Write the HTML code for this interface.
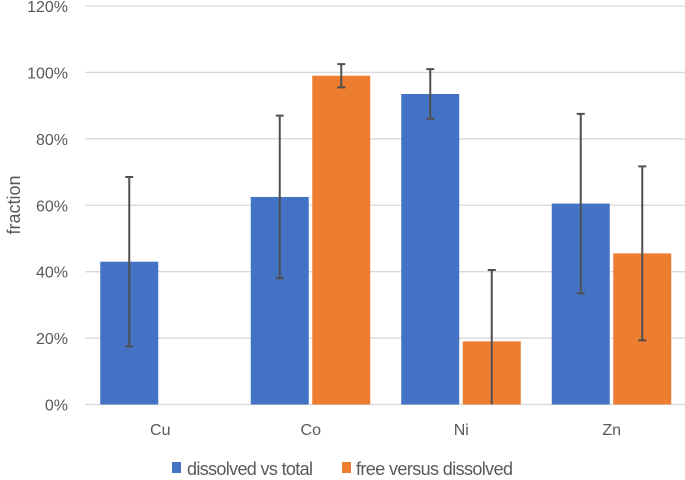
<!DOCTYPE html>
<html><head><meta charset="utf-8"><style>
body{margin:0;background:#fff;}
svg text{font-family:"Liberation Sans",sans-serif;fill:#595959;}
</style></head><body>
<svg id="chart" width="685" height="475" xmlns="http://www.w3.org/2000/svg">
<g id="grid"></g><g id="bars"></g><g id="errs"></g><g id="labels"></g>
<text transform="translate(20,205) rotate(-90)" text-anchor="middle" font-size="18">fraction</text>
<g>
<rect x="172" y="462" width="9" height="11" fill="#4472C4"/>
<text x="187" y="475" font-size="18" textLength="126">dissolved vs total</text>
<rect x="342" y="462" width="9" height="11" fill="#ED7D31"/>
<text x="356" y="475" font-size="18" textLength="157">free versus dissolved</text>
</g>
</svg>
<script>
const categories=["Cu","Co","Ni","Zn"];
const dissolved=[43,62.5,93.5,60.5];
const dissolvedErr=[25.5,24.5,7.5,27];
const free=[null,99,19,45.5];
const freeErr=[null,3.5,21.5,26.2];
const yTicks=[0,20,40,60,80,100,120];
const NS="http://www.w3.org/2000/svg";
const x0=85,cw=150.5,y0=404.5,yTop=6,ymax=120;
const y=v=>y0-(Math.max(0,v)/ymax)*(y0-yTop);
const cx=i=>x0+cw*i+cw/2;
function mk(p,t,a){const e=document.createElementNS(NS,t);for(const k in a)e.setAttribute(k,a[k]);document.getElementById(p).appendChild(e);return e;}
yTicks.forEach(t=>{
  const l=mk("grid","line",{x1:x0,x2:685,y1:y(t),y2:y(t),stroke:"#d9d9d9","stroke-width":1.3});
  
  
  const tx=mk("labels","text",{x:68,y:y(t)+6,"text-anchor":"end","font-size":16});
  tx.textContent=t+"%";
  
  
});
function bar(i,v,e,off,col,name){
  if(v==null)return;
  const bx=cx(i)+off;
  const r=mk("bars","rect",{x:bx,y:y(v),width:58,height:y0-y(v),fill:col});
  
  
  const m=bx+29,hi=y(v+e),lo=y(v-e);
  const g=mk("errs","path",{d:`M${m},${hi}V${lo}M${m-4},${hi}H${m+4}`+(v-e>0?`M${m-4},${lo}H${m+4}`:""),stroke:"#505050","stroke-width":2,fill:"none"});
  
  
}
categories.forEach((c,i)=>{
  bar(i,dissolved[i],dissolvedErr[i],-60,"#4472C4","bar-dissolved");
  bar(i,free[i],freeErr[i],1.5,"#ED7D31","bar-free");
  const t=mk("labels","text",{x:cx(i),y:435,"text-anchor":"middle","font-size":16});
  t.textContent=c;
  
  
});
</script>
</body></html>
